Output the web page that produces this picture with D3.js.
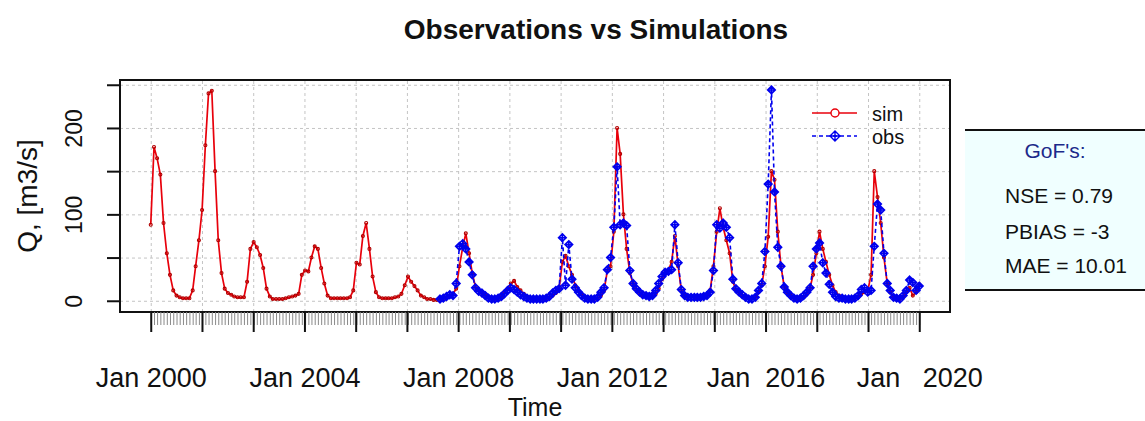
<!DOCTYPE html>
<html><head><meta charset="utf-8">
<script src="https://cdn.jsdelivr.net/npm/d3@7"></script>
<style>
html,body{margin:0;padding:0;background:#fff;}
svg{display:block;font-family:"Liberation Sans",Arial,sans-serif;}
</style></head><body>
<svg id="chart" width="1145" height="421"></svg>
<script>
// ---------------- data ----------------
const simStart = "2000-01";
const simValues = [
  88,178,165,146,90,55,30,12,6,4,3,3,        // 2000
  3,12,40,70,105,180,240,243,150,70,32,14,   // 2001
  9,7,5,4,4,4,22,60,68,62,53,38,             // 2002
  14,5,2,2,2,2,3,4,5,6,8,30,                 // 2003
  35,34,50,63,60,38,20,6,3,3,3,3,            // 2004
  3,3,4,12,44,42,75,90,60,28,10,4,           // 2005
  3,3,3,3,4,5,8,18,28,22,17,12,              // 2006
  6,4,2,2,1,1,2,3,4,6,8,14,                  // 2007
  40,62,78,55,32,16,12,9,6,4,3,2,            // 2008
  3,5,10,14,20,23,16,12,8,5,3,2,             // 2009
  2,2,2,3,4,6,9,14,45,52,40,30,              // 2010
  18,12,8,4,3,2,2,3,6,12,35,40,              // 2011
  80,200,170,100,60,32,20,13,9,6,5,4,        // 2012
  5,8,14,25,32,35,45,75,40,12,6,4,           // 2013
  5,4,4,4,4,6,12,40,80,107,85,70,            // 2014
  55,22,13,10,6,4,3,3,4,10,18,40,            // 2015
  74,150,140,80,40,16,10,6,3,2,2,4,          // 2016
  8,15,30,55,80,60,45,30,18,10,6,3,          // 2017
  2,2,2,3,5,8,10,12,30,150,120,90,           // 2018
  50,20,10,4,3,2,5,10,15,6,10,19             // 2019
];
const obsStart = "2007-07";
const obsValues = [
  2,3,5,7,6,20,                              // 2007 (Jul-Dec)
  63,66,60,45,30,15,11,9,6,3,2,2,            // 2008
  3,5,8,12,15,13,10,7,5,3,2,2,               // 2009
  2,2,2,3,5,9,12,14,73,18,65,25,             // 2010
  15,10,6,3,2,2,2,4,10,15,36,50,             // 2011
  85,155,88,90,87,35,20,14,10,7,6,5,         // 2012
  6,12,20,28,33,34,36,88,44,13,6,4,          // 2013
  4,4,4,4,5,6,10,35,88,84,90,85,             // 2014
  73,25,14,10,7,4,2,2,4,12,20,57,            // 2015
  135,244,126,62,40,16,10,6,3,2,3,6,         // 2016
  10,15,40,60,67,44,32,19,10,5,3,3,          // 2017
  2,2,2,3,6,13,15,10,12,63,112,105,          // 2018
  55,20,12,4,3,2,6,12,24,21,12,17            // 2019
];
const seriesNames = ["sim", "obs"];
const yTicks = [0, 50, 100, 150, 200, 250];
const yTickLabels = ["0", "", "100", "", "200", ""];
const xTickLabels = ["Jan 2000", "Jan 2004", "Jan 2008", "Jan 2012", "Jan  2016", "Jan   2020"];
const titleText = "Observations vs Simulations";
const xTitle = "Time";
const yTitle = "Q, [m3/s]";
const gofTitle = "GoF's:";
const gofLines = ["NSE = 0.79", "PBIAS = -3", "MAE = 10.01"];

// ---------------- build ----------------
const parseM = d3.timeParse("%Y-%m");
const sim = simValues.map((v, i) => ({date: d3.timeMonth.offset(parseM(simStart), i), v}));
const obs = obsValues.map((v, i) => ({date: d3.timeMonth.offset(parseM(obsStart), i), v}));

const L = 120, R = 950, T = 80, B = 312;
const t0 = sim[0].date.getTime(), t1 = sim[sim.length - 1].date.getTime();
const span = t1 - t0;
const x = d3.scaleTime().domain([new Date(t0 - 0.04 * span), new Date(t1 + 0.04 * span)]).range([L, R]);
const y = d3.scaleLinear().domain([-13, 255.5]).range([B, T]);

const svg = d3.select("#chart");
const ink = "#111";

// title
svg.append("text").attr("x", 596).attr("y", 39).attr("text-anchor", "middle")
  .attr("font-size", 28).attr("font-weight", "bold").attr("fill", ink).text(titleText);

// grid
const majorDates = d3.range(16).map(i => new Date(t0 + i * span / 15));
const gGridX = svg.append("g").attr("transform", `translate(0,${B})`)
  .call(d3.axisBottom(x).tickValues(majorDates).tickSize(-(B - T)).tickFormat(""));
const gGridY = svg.append("g").attr("transform", `translate(${L},0)`)
  .call(d3.axisLeft(y).tickValues(yTicks).tickSize(-(R - L)).tickFormat(""));
[gGridX, gGridY].forEach(g => {
  g.select(".domain").remove();
  g.selectAll("line").attr("stroke", "#c4c4c4").attr("stroke-width", 1).attr("stroke-dasharray", "3,3");
});

// series
const line = d3.line().x(d => x(d.date)).y(d => y(d.v));
const simColor = "#e8000b", obsColor = "#0000ee";
svg.append("path").datum(sim).attr("d", line).attr("fill", "none")
  .attr("stroke", simColor).attr("stroke-width", 1.7);
svg.append("g").selectAll("circle").data(sim).join("circle")
  .attr("cx", d => x(d.date)).attr("cy", d => y(d.v)).attr("r", 1.5)
  .attr("fill", "none").attr("stroke", "#b00000").attr("stroke-width", 1.1);

svg.append("path").datum(obs).attr("d", line).attr("fill", "none")
  .attr("stroke", obsColor).attr("stroke-width", 1.6).attr("stroke-dasharray", "4,3");
const dp = s => `M0,${-s}L${s},0L0,${s}L${-s},0ZM0,${-s}L0,${s}M${-s},0L${s},0`;
svg.append("g").selectAll("path").data(obs).join("path")
  .attr("transform", d => `translate(${x(d.date)},${y(d.v)})`)
  .attr("d", dp(3.8)).attr("fill", "none").attr("stroke", obsColor).attr("stroke-width", 1.6);

// box
svg.append("rect").attr("x", L).attr("y", T).attr("width", R - L).attr("height", B - T)
  .attr("fill", "none").attr("stroke", ink).attr("stroke-width", 2);

// y axis
const gy = svg.append("g").attr("transform", `translate(${L},0)`)
  .call(d3.axisLeft(y).tickValues(yTicks).tickSize(13).tickFormat((d, i) => yTickLabels[i]));
gy.select(".domain").remove();
gy.selectAll("line").attr("stroke", ink).attr("stroke-width", 2);
gy.selectAll("text").attr("transform", "rotate(-90)").attr("x", 0).attr("y", -38).attr("dy", 0)
  .attr("text-anchor", "middle").attr("font-size", 23).attr("fill", ink).attr("font-family", null);

// x axis minor ticks
const gxm = svg.append("g").attr("transform", `translate(0,${B})`)
  .call(d3.axisBottom(x).tickValues(sim.map(d => d.date)).tickSize(13).tickFormat(""));
gxm.select(".domain").remove();
gxm.selectAll("line").attr("stroke", "#8a8a8a").attr("stroke-width", 1);

// x axis major ticks
const gx = svg.append("g").attr("transform", `translate(0,${B})`)
  .call(d3.axisBottom(x).tickValues(majorDates).tickSize(20)
    .tickFormat((d, i) => i % 3 === 0 ? xTickLabels[i / 3] : ""));
gx.select(".domain").remove();
gx.selectAll("line").attr("stroke", ink).attr("stroke-width", 2);
gx.selectAll("text").attr("y", 75).attr("dy", 0).attr("font-size", 27).attr("fill", ink)
  .attr("font-family", null).style("white-space", "pre");

// axis titles
svg.append("text").attr("x", 535).attr("y", 416).attr("text-anchor", "middle")
  .attr("font-size", 25).attr("fill", ink).text(xTitle);
svg.append("text").attr("transform", "translate(37,196) rotate(-90)").attr("text-anchor", "middle")
  .attr("font-size", 28).attr("fill", ink).text(yTitle);

// legend
const leg = svg.append("g");
const legY = [113, 136];
leg.append("line").attr("x1", 812).attr("x2", 857).attr("y1", legY[0]).attr("y2", legY[0])
  .attr("stroke", simColor).attr("stroke-width", 1.6);
leg.append("circle").attr("cx", 835).attr("cy", legY[0]).attr("r", 4)
  .attr("fill", "#fff").attr("stroke", simColor).attr("stroke-width", 1.4);
leg.append("line").attr("x1", 812).attr("x2", 857).attr("y1", legY[1]).attr("y2", legY[1])
  .attr("stroke", obsColor).attr("stroke-width", 1.6).attr("stroke-dasharray", "4,3");
leg.append("path").attr("transform", `translate(835,${legY[1]})`).attr("d", dp(5))
  .attr("fill", "none").attr("stroke", obsColor).attr("stroke-width", 1.4);
leg.selectAll("text").data(seriesNames).join("text")
  .attr("x", 872).attr("y", (d, i) => [121, 144][i]).attr("font-size", 20).attr("fill", ink).text(d => d);

// GoF box
const gof = svg.append("g");
gof.append("rect").attr("x", 965).attr("y", 130).attr("width", 200).attr("height", 160).attr("fill", "#f0ffff");
gof.append("line").attr("x1", 965).attr("x2", 1145).attr("y1", 130).attr("y2", 130).attr("stroke", ink).attr("stroke-width", 2);
gof.append("line").attr("x1", 965).attr("x2", 1145).attr("y1", 290).attr("y2", 290).attr("stroke", ink).attr("stroke-width", 2);
gof.append("text").attr("x", 1055).attr("y", 158).attr("text-anchor", "middle")
  .attr("font-size", 21).attr("fill", "#1c2a8a").text(gofTitle);
gof.selectAll("text.st").data(gofLines).join("text").attr("class", "st")
  .attr("x", 1005).attr("y", (d, i) => [203, 239, 273][i]).attr("font-size", 21).attr("fill", ink).text(d => d);
</script>
</body></html>
